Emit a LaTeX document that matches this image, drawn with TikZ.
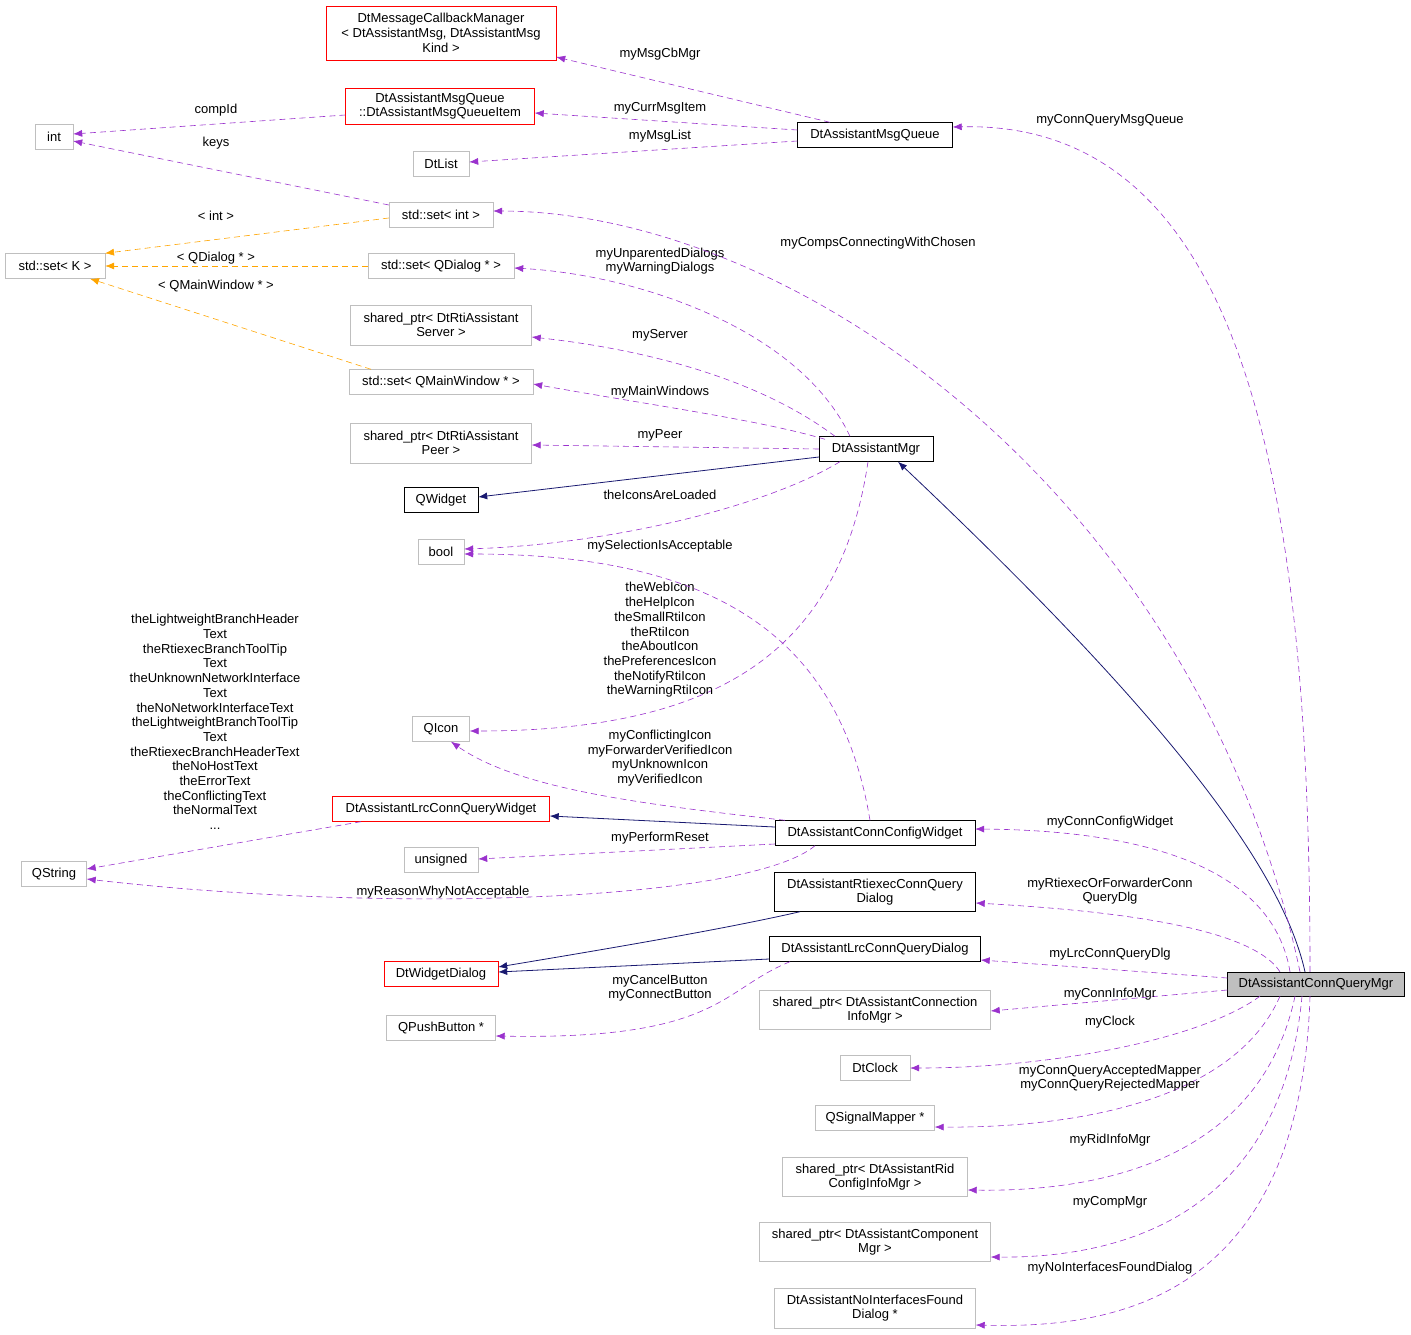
\documentclass[tikz,border=0pt]{standalone}
\usepackage{fontspec}
\setmainfont{Liberation Sans}
\usetikzlibrary{arrows.meta}
\definecolor{purp}{HTML}{9A32CD}
\definecolor{nav}{HTML}{191970}
\definecolor{orng}{HTML}{FFA500}
\definecolor{gbd}{HTML}{BFBFBF}
\definecolor{gfill}{HTML}{BFBFBF}
\begin{document}
\begin{tikzpicture}[x=1pt,y=-1pt,font=\fontsize{13}{14.7}\selectfont,
  bx/.style={draw,align=center,inner sep=2pt,minimum height=25pt},
  g/.style={bx,draw=gbd},
  r/.style={bx,draw=red},
  k/.style={bx,draw=black},
  lb/.style={align=center,inner sep=0pt},
  tip/.style={-{Latex[length=9pt,width=7pt]}},
  u/.style={tip,purp,dashed,line width=0.6pt,dash pattern=on 6pt off 4pt},
  o/.style={tip,orng,dashed,line width=0.6pt,dash pattern=on 6pt off 4pt},
  n/.style={tip,nav,thick}]
\useasboundingbox (0,0) rectangle (1411,1335);
% nodes
\node[r,minimum width=230pt,minimum height=54pt] (cb) at (441,33) {DtMessageCallbackManager\\< DtAssistantMsg, DtAssistantMsg\\Kind >};
\node[r,minimum width=189pt,minimum height=36pt] (qi) at (440,106) {DtAssistantMsgQueue\\::DtAssistantMsgQueueItem};
\node[g,minimum width=38pt] (int) at (54,137) {int};
\node[g,minimum width=56pt] (dl) at (441,164) {DtList};
\node[k,minimum width=155pt] (mq) at (875,135) {DtAssistantMsgQueue};
\node[g,minimum width=104pt] (si) at (441,215) {std::set< int >};
\node[g,minimum width=100pt] (sk) at (55,266) {std::set< K >};
\node[g,minimum width=146pt] (sd) at (441,266) {std::set< QDialog * >};
\node[g,minimum width=181pt,minimum height=40pt] (ss) at (441,325) {shared\_ptr< DtRtiAssistant\\Server >};
\node[g,minimum width=184pt] (sm) at (441,382) {std::set< QMainWindow * >};
\node[g,minimum width=181pt,minimum height=40pt] (sp) at (441,443) {shared\_ptr< DtRtiAssistant\\Peer >};
\node[k,minimum width=114pt] (am) at (876,449) {DtAssistantMgr};
\node[k,minimum width=74pt] (qw) at (441,500) {QWidget};
\node[g,minimum width=46pt] (bo) at (441,552) {bool};
\node[g,minimum width=57pt] (ic) at (441,729) {QIcon};
\node[r,minimum width=217pt] (lw) at (441,809) {DtAssistantLrcConnQueryWidget};
\node[k,minimum width=200pt] (cw) at (875,833) {DtAssistantConnConfigWidget};
\node[g,minimum width=74pt] (un) at (441,860) {unsigned};
\node[g,minimum width=65pt] (qs) at (54,874) {QString};
\node[k,minimum width=201pt,minimum height=39pt] (rd) at (875,892) {DtAssistantRtiexecConnQuery\\Dialog};
\node[r,minimum width=114pt] (wd) at (441,974) {DtWidgetDialog};
\node[k,minimum width=211pt] (ld) at (875,949) {DtAssistantLrcConnQueryDialog};
\node[bx,draw=black,fill=gfill,minimum width=177pt,minimum height=24pt] (Q) at (1316,984) {DtAssistantConnQueryMgr};
\node[g,minimum width=109pt] (pb) at (441,1028) {QPushButton *};
\node[g,minimum width=231pt,minimum height=39pt] (ci) at (875,1010) {shared\_ptr< DtAssistantConnection\\InfoMgr >};
\node[g,minimum width=70pt] (ck) at (875,1068) {DtClock};
\node[g,minimum width=119pt] (sg) at (875,1118) {QSignalMapper *};
\node[g,minimum width=185pt,minimum height=39pt] (rc) at (875,1177) {shared\_ptr< DtAssistantRid\\ConfigInfoMgr >};
\node[g,minimum width=231pt,minimum height=39pt] (cm) at (875,1242) {shared\_ptr< DtAssistantComponent\\Mgr >};
\node[g,minimum width=201pt,minimum height=40pt] (ni) at (875,1308) {DtAssistantNoInterfacesFound\\Dialog *};
% MsgQueue edges
\draw[u] ([xshift=-45pt]mq.north) -- ([yshift=-24pt]cb.east);
\node[lb] at (660,54) {myMsgCbMgr};
\draw[u] ([yshift=5pt]mq.west) -- ([yshift=-7pt]qi.east);
\node[lb] at (660,108) {myCurrMsgItem};
\draw[u] ([yshift=-6pt]mq.west) -- ([yshift=2pt]dl.east);
\node[lb] at (660,136) {myMsgList};
\draw[u] ([yshift=-9pt]qi.west) -- ([yshift=3pt]int.east);
\node[lb] at (216,110) {compId};
\draw[u] ([yshift=10pt]si.west) -- ([yshift=-4pt]int.east);
\node[lb] at (216,143) {keys};
\draw[o] ([yshift=-3pt]si.west) -- ([xshift=50pt]sk.north);
\node[lb] at (216,216) {< int >};
\draw[o] (sd.west) -- (sk.east);
\node[lb] at (216,258) {< QDialog * >};
\draw[o] ([xshift=-70pt]sm.north) -- ([xshift=35pt]sk.south);
\node[lb] at (216,286) {< QMainWindow * >};
% DtAssistantMgr edges
\draw[u] ([xshift=-26pt]am.north) .. controls (800,330) and (640,275) .. ([yshift=-2pt]sd.east);
\node[lb] at (660,261) {myUnparentedDialogs\\myWarningDialogs};
\draw[u] ([xshift=-41pt]am.north) .. controls (760,380) and (650,350) .. ([yshift=-12pt]ss.east);
\node[lb] at (660,335) {myServer};
\draw[u] ([xshift=-51pt,yshift=-3pt]am.north) .. controls (760,420) and (650,405) .. ([yshift=-2pt]sm.east);
\node[lb] at (660,392) {myMainWindows};
\draw[u] (am.west) -- ([yshift=-2pt]sp.east);
\node[lb] at (660,435) {myPeer};
\draw[n] ([yshift=-8pt]am.west) -- ([yshift=3pt]qw.east);
\draw[u] ([xshift=-36pt]am.south) .. controls (760,510) and (600,545) .. ([yshift=3pt]bo.east);
\node[lb] at (660,495) {theIconsAreLoaded};
\draw[u] ([xshift=-8pt]am.south) .. controls (840,650) and (720,731) .. ([yshift=-2pt]ic.east);
\node[lb] at (660,640) {theWebIcon\\theHelpIcon\\theSmallRtiIcon\\theRtiIcon\\theAboutIcon\\thePreferencesIcon\\theNotifyRtiIcon\\theWarningRtiIcon};
% ConnConfigWidget edges
\draw[u] ([xshift=-5pt]cw.north) .. controls (840,640) and (720,554) .. ([yshift=-2pt]bo.east);
\node[lb] at (660,546) {mySelectionIsAcceptable};
\draw[u] ([xshift=-90pt]cw.north) .. controls (650,805) and (520,790) .. ([xshift=10pt]ic.south);
\node[lb] at (660,758) {myConflictingIcon\\myForwarderVerifiedIcon\\myUnknownIcon\\myVerifiedIcon};
\draw[n] ([yshift=6pt]cw.west) -- ([yshift=-7pt]lw.east);
\draw[u] ([yshift=-11pt]cw.west) -- ([yshift=1pt]un.east);
\node[lb] at (660,838) {myPerformReset};
\draw[u] ([xshift=-60pt]cw.south) .. controls (750,900) and (400,915) .. ([yshift=-5pt]qs.east);
\node[lb] at (443,892) {myReasonWhyNotAcceptable};
\draw[u] ([xshift=-80pt]lw.south) -- ([yshift=5pt]qs.east);
\node[lb] at (215,722) {theLightweightBranchHeader\\Text\\theRtiexecBranchToolTip\\Text\\theUnknownNetworkInterface\\Text\\theNoNetworkInterfaceText\\theLightweightBranchToolTip\\Text\\theRtiexecBranchHeaderText\\theNoHostText\\theErrorText\\theConflictingText\\theNormalText\\...};
% dialogs
\draw[n] ([xshift=-75pt]rd.south) .. controls (720,930) and (600,950) .. ([yshift=7pt]wd.east);
\draw[n] ([yshift=-10pt]ld.west) -- ([yshift=2pt]wd.east);
\draw[u] ([xshift=-85pt]ld.south) .. controls (720,990) and (720,1040) .. ([yshift=-8pt]pb.east);
\node[lb] at (660,988) {myCancelButton\\myConnectButton};
% ConnQueryMgr edges
\draw[n] ([xshift=-11pt]Q.north) .. controls (1280,860) and (1150,700) .. ([xshift=22pt]am.south);
\draw[u] ([xshift=-6pt]Q.north) .. controls (1310,500) and (1250,120) .. ([yshift=8pt]mq.east);
\node[lb] at (1110,120) {myConnQueryMsgQueue};
\draw[u] ([xshift=-16pt]Q.north) .. controls (1200,500) and (800,212) .. ([yshift=4pt]si.east);
\node[lb] at (878,243) {myCompsConnectingWithChosen};
\draw[u] ([xshift=-26pt]Q.north) .. controls (1270,850) and (1100,830) .. ([yshift=4pt]cw.east);
\node[lb] at (1110,822) {myConnConfigWidget};
\draw[u] ([xshift=-36pt]Q.north) .. controls (1250,925) and (1100,910) .. ([yshift=-11pt]rd.east);
\node[lb] at (1110,891) {myRtiexecOrForwarderConn\\QueryDlg};
\draw[u] ([yshift=6pt]Q.west) -- ([yshift=-11pt]ld.east);
\node[lb] at (1110,954) {myLrcConnQueryDlg};
\draw[u] ([yshift=-6pt]Q.west) -- ([yshift=-1pt]ci.east);
\node[lb] at (1110,994) {myConnInfoMgr};
\draw[u] ([xshift=-56pt]Q.south) .. controls (1200,1040) and (1050,1068) .. (ck.east);
\node[lb] at (1110,1022) {myClock};
\draw[u] ([xshift=-36pt]Q.south) .. controls (1230,1110) and (1050,1128) .. ([yshift=-9pt]sg.east);
\node[lb] at (1110,1078) {myConnQueryAcceptedMapper\\myConnQueryRejectedMapper};
\draw[u] ([xshift=-21pt]Q.south) .. controls (1260,1160) and (1100,1192) .. ([yshift=-13pt]rc.east);
\node[lb] at (1110,1140) {myRidInfoMgr};
\draw[u] ([xshift=-14pt]Q.south) .. controls (1280,1230) and (1100,1258) .. ([yshift=-15pt]cm.east);
\node[lb] at (1110,1202) {myCompMgr};
\draw[u] ([xshift=-6pt]Q.south) .. controls (1300,1310) and (1100,1328) .. ([yshift=-17pt]ni.east);
\node[lb] at (1110,1268) {myNoInterfacesFoundDialog};
\end{tikzpicture}
\end{document}
